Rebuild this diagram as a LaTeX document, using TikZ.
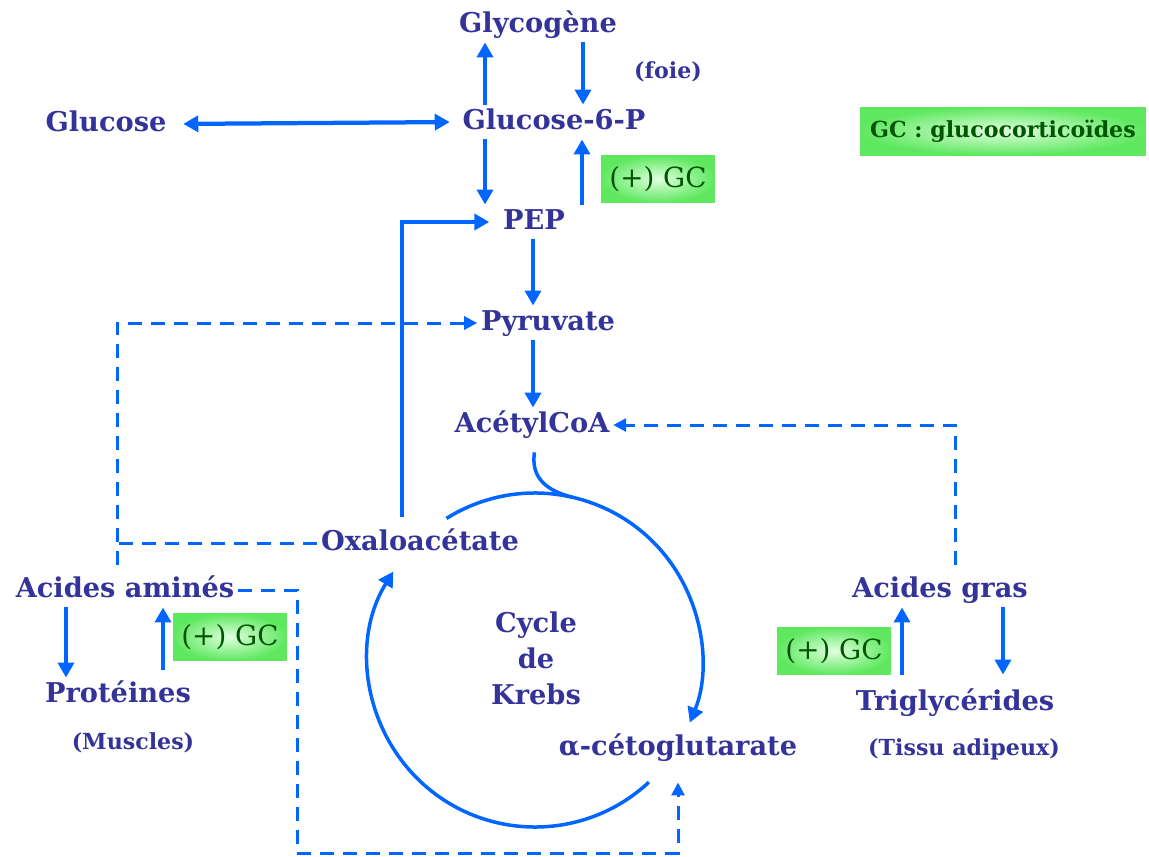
\documentclass[tikz,border=0pt]{standalone}
\usepackage{fontspec}
\setmainfont{DejaVu Serif}
\usetikzlibrary{arrows.meta, positioning, calc}
\definecolor{textblue}{RGB}{51,51,153}
\definecolor{flowblue}{RGB}{0,102,255}
\definecolor{gcgreen}{RGB}{95,232,95}
\definecolor{gclight}{RGB}{225,255,225}
\definecolor{gctext}{RGB}{0,85,0}

\begin{document}
\begin{tikzpicture}[
    x=0.02cm, y=-0.02cm,
    >={Triangle[length=0.3cm,width=0.32cm]},
    metab/.style={font=\bfseries\fontsize{15.5}{18}\selectfont, text=textblue, inner sep=2pt, text height=12pt, text depth=3.5pt},
    note/.style={font=\bfseries\fontsize{12.6}{15}\selectfont, text=textblue},
    gcbox/.style={inner color=gclight, outer color=gcgreen, minimum width=2.28cm, minimum height=0.94cm, inner sep=0pt, font=\fontsize{15.8}{18}\selectfont, text=gctext},
    arrow/.style={line width=0.085cm, draw=flowblue, ->},
    dasharrow/.style={line width=0.06cm, draw=flowblue, dash pattern=on 0.28cm off 0.18cm, -{Triangle[length=0.26cm,width=0.26cm]}},
    dashline/.style={line width=0.06cm, draw=flowblue, dash pattern=on 0.28cm off 0.18cm},
    cyc/.style={line width=0.07cm, draw=flowblue}
]
\useasboundingbox (0,0) rectangle (1149,856);

% Liver pathway
\node[metab] (glycogen) at (538,25) {Glycogène};
\node[note] (foie) at (668,72) {(foie)};
\node[metab] (glucose) at (106,124) {Glucose};
\node[metab] (gsix) at (554,122) {Glucose-6-P};
\node[metab] (pep) at (534,222) {PEP};
\node[metab] (pyruvate) at (548,323) {Pyruvate};
\node[metab] (acetyl) at (532,425) {AcétylCoA};
\node[metab] (oxa) at (420,543) {Oxaloacétate};
\node[metab] (akg) at (678,748) {α-cétoglutarate};

% Muscles
\node[metab] (amines) at (125,590) {Acides aminés};
\node[metab] (proteines) at (118,695) {Protéines};
\node[note] (muscles) at (133,743) {(Muscles)};

% Adipose tissue
\node[metab] (gras) at (940,590) {Acides gras};
\node[metab] (trig) at (955,703) {Triglycérides};
\node[note] (tissu) at (964,749) {(Tissu adipeux)};

% Glucocorticoid boxes
\node[gcbox, minimum width=5.72cm, minimum height=0.96cm, font=\bfseries\fontsize{12.6}{14}\selectfont] (legend) at (1003,131) {GC : glucocorticoïdes};
\node[gcbox] (gctop) at (658,179) {(+) GC};
\node[gcbox] (gcleft) at (230,637) {(+) GC};
\node[gcbox] (gcright) at (834,651) {(+) GC};

% Krebs cycle
\coordinate (krebs) at (535,660);
\node[metab, text height=, text depth=, align=center, font=\bfseries\fontsize{15.5}{20.5}\selectfont] (krebslabel) at (536,658) {Cycle\\de\\Krebs};
\draw[cyc, ->] ([shift={(-122:167)}]krebs) arc[start angle=-122, end angle=22, radius=167];
\draw[cyc, ->] ([shift={(47:167)}]krebs) arc[start angle=47, end angle=212, radius=167];
\draw[cyc, shorten <=0.2cm] (acetyl.south -| 536,0) .. controls (531,475) and (543,490) .. ([shift={(-77:167)}]krebs);

% Solid connections
\draw[arrow] (gsix.north -| 485,0) -- (glycogen.south -| 485,0);
\draw[arrow] (glycogen.south -| 583,0) -- (gsix.north -| 583,0);
\draw[arrow, <->, shorten <=0.26cm, shorten >=0.18cm] (glucose.east) -- (gsix.west);
\draw[arrow] (gsix.south -| 485,0) -- (pep.north -| 485,0);
\draw[arrow] (pep.north -| 582,0) -- (gsix.south -| 582,0);
\draw[arrow, shorten <=0.18cm, shorten >=0.2cm] (oxa.north -| 402,0) |- (pep.west);
\draw[arrow] (pep.south -| 533,0) -- (pyruvate.north -| 533,0);
\draw[arrow] (pyruvate.south -| 533,0) -- (acetyl.north -| 533,0);
\draw[arrow] (amines.south -| 66,0) -- (proteines.north -| 66,0);
\draw[arrow, shorten <=0.16cm] (proteines.north -| 163,0) -- (amines.south -| 163,0);
\draw[arrow, shorten <=0.22cm] (trig.north -| 902,0) -- (gras.south -| 902,0);
\draw[arrow, shorten >=0.22cm] (gras.south -| 1003,0) -- (trig.north -| 1003,0);

% Dashed connections
\draw[dasharrow, shorten <=0.16cm] (amines.north -| 117,0) |- (pyruvate.west);
\draw[dashline] (oxa.west) -- (oxa.west -| 117,0);
\draw[dasharrow, shorten >=0.34cm] (amines.east) -| (297,853) -| (akg.south);
\draw[dasharrow, shorten <=0.16cm] (gras.north -| 955,0) |- (acetyl.east);

\end{tikzpicture}
\end{document}
